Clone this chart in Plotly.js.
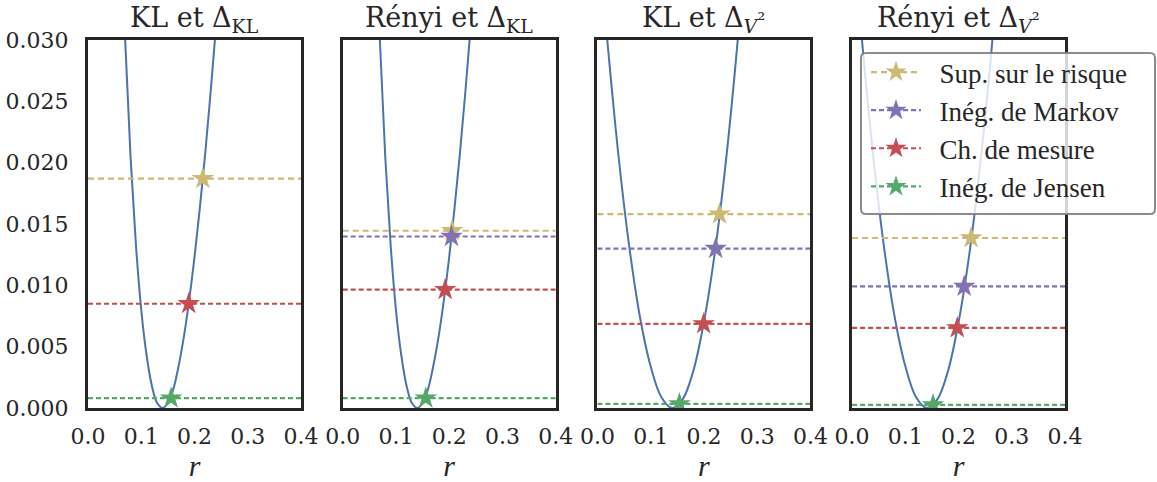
<!DOCTYPE html>
<html>
<head>
<meta charset="utf-8">
<script src="https://cdn.plot.ly/plotly-3.0.1.min.js"></script>
<style>html,body{margin:0;padding:0;background:#fff;}</style>
</head>
<body>
<div id="chart" style="width:1157px;height:482px;"></div>
<script>
// Bound on the risk as a function of r, for the KL-based divergence (panels 1 and 2)
const rKL = [0.05, 0.06, 0.07, 0.08, 0.09, 0.10, 0.11, 0.12, 0.13, 0.14, 0.15, 0.16, 0.17, 0.18, 0.19, 0.20, 0.21, 0.22, 0.23, 0.24, 0.25];
const fKL = [0.0586, 0.0421, 0.0298, 0.0204, 0.0133, 0.0080, 0.0043, 0.0018, 0.0004, 0.0000, 0.0004, 0.0015, 0.0034, 0.0058, 0.0088, 0.0123, 0.0163, 0.0207, 0.0256, 0.0309, 0.0365];

// Same for the V² divergence (panels 3 and 4)
const rV = [0.00, 0.01, 0.02, 0.04, 0.06, 0.08, 0.10, 0.12, 0.14, 0.16, 0.18, 0.20, 0.22, 0.24, 0.26, 0.28];
const fV = [0.0398, 0.0343, 0.0293, 0.0204, 0.0131, 0.0074, 0.0034, 0.0009, 0.0000, 0.0007, 0.0030, 0.0070, 0.0125, 0.0196, 0.0283, 0.0386];

const vsq = '<sub><i>V</i></sub><span style="font-size:20px">²</span>';
const panelTitles = ['KL et Δ<sub>KL</sub>', 'Rényi et Δ<sub>KL</sub>', 'KL et Δ' + vsq, 'Rényi et Δ' + vsq];
const panelCurve = ['KL', 'KL', 'V', 'V'];

const boundNames = ['Sup. sur le risque', 'Inég. de Markov', 'Ch. de mesure', 'Inég. de Jensen'];
// level of each bound per panel, and r where it meets the curve (null = not shown)
const supLevel     = [0.0187, 0.01445, 0.0158, 0.01386];
const supR         = [0.2157, 0.2055, 0.2292, 0.2235];
const markovLevel  = [null, 0.01398, 0.0130, 0.00991];
const markovR      = [null, 0.2043, 0.2222, 0.2105];
const changeLevel  = [0.0085, 0.00965, 0.00685, 0.00653];
const changeR      = [0.1892, 0.1925, 0.1995, 0.1975];
const jensenLevel  = [0.0008, 0.0008, 0.00034, 0.00026];
const jensenR      = [0.156, 0.156, 0.154, 0.152];

const xTicks = [0, 0.1, 0.2, 0.3, 0.4];
const xTickText = ['0.0', '0.1', '0.2', '0.3', '0.4'];
const yTicks = [0, 0.005, 0.010, 0.015, 0.020, 0.025, 0.030];
const yTickText = ['0.000', '0.005', '0.010', '0.015', '0.020', '0.025', '0.030'];
const xLimits = [0, 0.4];
const yLimits = [0, 0.03];

const curveColor = '#4C72B0';
const boundColors = ['#CCB974', '#8172B2', '#C44E52', '#55A868'];
const boundDash = ['6px,4px', '5px,3px', '5px,3px', '5px,3px'];
const ink = '#262626';
const tickFont = {family: 'DejaVu Serif', size: 22, color: ink};

const W = 1157, H = 482;
const M = {l: 88, r: 91, t: 40, b: 74};
const plotW = W - M.l - M.r, plotH = H - M.t - M.b;
const panelW = 213, panelStep = 254.7;

const levels = [supLevel, markovLevel, changeLevel, jensenLevel];
const meets = [supR, markovR, changeR, jensenR];

const traces = [];
const layout = {
  width: W, height: H,
  margin: M,
  paper_bgcolor: '#fff',
  plot_bgcolor: '#fff',
  showlegend: true,
  annotations: [],
  shapes: []
};

for (let p = 0; p < 4; p++) {
  const sfx = p === 0 ? '' : String(p + 1);
  const xa = 'x' + sfx, ya = 'y' + sfx;
  const cx = panelCurve[p] === 'KL' ? rKL : rV;
  const cy = panelCurve[p] === 'KL' ? fKL : fV;

  traces.push({
    x: cx, y: cy, xaxis: xa, yaxis: ya,
    mode: 'lines', line: {color: curveColor, width: 2, shape: 'spline', smoothing: 1},
    showlegend: false, hoverinfo: 'skip'
  });

  for (let b = 0; b < 4; b++) {
    const lv = levels[b][p];
    if (lv === null) continue;
    traces.push({
      x: xLimits, y: [lv, lv], xaxis: xa, yaxis: ya,
      mode: 'lines', line: {color: boundColors[b], width: 2.2, dash: boundDash[b]},
      showlegend: false, hoverinfo: 'skip'
    });
    traces.push({
      x: [meets[b][p]], y: [lv], xaxis: xa, yaxis: ya,
      mode: 'markers', marker: {symbol: 'star', size: 17, color: boundColors[b], line: {width: 0}},
      showlegend: false, hoverinfo: 'skip'
    });
  }

  const d0 = (panelStep * p) / plotW;
  const d1 = (panelStep * p + panelW) / plotW;
  layout['xaxis' + sfx] = {
    domain: [d0, Math.min(d1, 1)], anchor: ya, range: xLimits,
    tickvals: xTicks, ticktext: xTickText, tickfont: tickFont,
    ticks: '', ticklabelstandoff: 7,
    showline: true, mirror: true, linewidth: 3, linecolor: ink,
    showgrid: false, zeroline: false,
    title: {text: '<i>r</i>', font: {family: 'Liberation Serif', size: 30, color: ink}, standoff: 4}
  };
  layout['yaxis' + sfx] = {
    domain: [0, 1], anchor: xa, range: yLimits,
    tickvals: yTicks, ticktext: yTickText, tickfont: tickFont,
    showticklabels: p === 0, ticks: '', ticklabelstandoff: 12,
    showline: true, mirror: true, linewidth: 3, linecolor: ink,
    showgrid: false, zeroline: false
  };
  layout.annotations.push({
    text: panelTitles[p], xref: xa + ' domain', yref: 'paper', x: 0.5, y: 1,
    xanchor: 'center', yanchor: 'bottom', yshift: 1, showarrow: false,
    font: {family: 'DejaVu Serif', size: 27, color: ink}
  });
}

// legend entries: dashed sample with a star
for (let b = 0; b < 4; b++) {
  traces.push({
    x: [null], y: [null], xaxis: 'x4', yaxis: 'y4', name: '\u2002' + boundNames[b],
    mode: 'lines+markers',
    line: {color: boundColors[b], width: 2.2, dash: boundDash[b]},
    marker: {symbol: 'star', size: 17, color: boundColors[b], line: {width: 0}},
    showlegend: true, hoverinfo: 'skip'
  });
}

// rounded, translucent legend frame
const px2x = v => (v - M.l) / plotW;
const px2y = v => (H - M.b - v) / plotH;
const bx0 = 861, bx1 = 1155, by0 = 53, by1 = 214, rad = 5;
const path = [
  'M', px2x(bx0 + rad), px2y(by0),
  'L', px2x(bx1 - rad), px2y(by0),
  'Q', px2x(bx1), px2y(by0), px2x(bx1), px2y(by0 + rad),
  'L', px2x(bx1), px2y(by1 - rad),
  'Q', px2x(bx1), px2y(by1), px2x(bx1 - rad), px2y(by1),
  'L', px2x(bx0 + rad), px2y(by1),
  'Q', px2x(bx0), px2y(by1), px2x(bx0), px2y(by1 - rad),
  'L', px2x(bx0), px2y(by0 + rad),
  'Q', px2x(bx0), px2y(by0), px2x(bx0 + rad), px2y(by0), 'Z'
].join(' ');
layout.shapes.push({
  type: 'path', xref: 'paper', yref: 'paper', path: path, layer: 'above',
  fillcolor: 'rgba(255,255,255,0.8)', line: {color: 'rgba(128,128,128,0.9)', width: 2}
});

layout.legend = {
  x: px2x(866), y: px2y(48), xanchor: 'left', yanchor: 'top',
  bgcolor: 'rgba(0,0,0,0)', borderwidth: 0,
  font: {family: 'Liberation Serif', size: 27, color: ink},
  itemwidth: 50, tracegroupgap: 0
};

Plotly.newPlot('chart', traces, layout, {staticPlot: true, displayModeBar: false});
</script>
</body>
</html>
